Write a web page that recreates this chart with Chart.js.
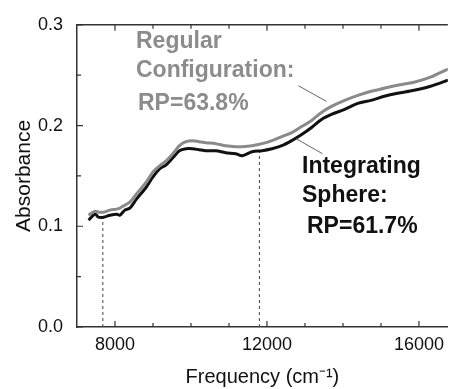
<!DOCTYPE html>
<html>
<head>
<meta charset="utf-8">
<script src="https://cdn.jsdelivr.net/npm/chart.js@4/dist/chart.umd.min.js"></script>
<style>
  html, body { margin: 0; padding: 0; background: #fff; }
  #wrap { width: 451px; height: 389px; }
</style>
</head>
<body>
<div id="wrap"><canvas id="myChart" width="451" height="389"></canvas></div>
<script>
/* data */
const freq = [7304, 7478, 7565, 7696, 7870, 8043, 8130, 8260, 8391, 8565, 8826, 9000, 9174, 9348, 9522, 9696, 9870, 10043, 10217, 10391, 10652, 10913, 11174, 11348, 11609, 11870, 12130, 12391, 12652, 12913, 13174, 13435, 13696, 14043, 14391, 14739, 15087, 15435, 15870, 16304, 16765];
const sphere = [0.106, 0.112, 0.109, 0.109, 0.111, 0.112, 0.111, 0.116, 0.118, 0.127, 0.139, 0.149, 0.157, 0.161, 0.168, 0.175, 0.177, 0.177, 0.176, 0.175, 0.175, 0.173, 0.172, 0.170, 0.174, 0.175, 0.177, 0.180, 0.185, 0.191, 0.198, 0.206, 0.211, 0.216, 0.222, 0.225, 0.229, 0.232, 0.235, 0.239, 0.245];
const regular = [0.111, 0.115, 0.114, 0.114, 0.116, 0.117, 0.118, 0.121, 0.124, 0.132, 0.144, 0.154, 0.160, 0.165, 0.172, 0.180, 0.184, 0.185, 0.184, 0.183, 0.182, 0.180, 0.179, 0.179, 0.180, 0.182, 0.185, 0.189, 0.193, 0.199, 0.205, 0.213, 0.219, 0.225, 0.230, 0.234, 0.237, 0.240, 0.243, 0.248, 0.256];

// dashed markers
const markFreq = [7680, 11800];
const markTop = [0.110, 0.175];

const xTicks = [8000, 12000, 16000];
const xMinor = [9000, 10000, 11000, 13000, 14000, 15000];
const yTicks = [0.0, 0.1, 0.2, 0.3];
const yMinor = [0.05, 0.15, 0.25];

const FONT = "'Liberation Sans', Arial, sans-serif";

function pts(xs, ys) {
    return xs.map((x, i) => ({ x: x, y: ys[i] }));
}

let markSets = markFreq.map((f, i) => ({
    data: [{ x: f, y: 0 }, { x: f, y: markTop[i] }],
    borderColor: '#444',
    borderWidth: 1,
    borderDash: [3, 3],
    pointRadius: 0
}));

// ticks inward, top frame line, labels and leader lines
const extras = {
    id: 'extras',
    afterDraw(chart) {
        const c = chart.ctx;
        const a = chart.chartArea;
        const xs = chart.scales.x, ys = chart.scales.y;
        c.save();
        c.strokeStyle = '#333';
        c.lineWidth = 1.5;
        c.beginPath();
        c.moveTo(a.left, a.top);
        c.lineTo(a.right, a.top);
        c.stroke();

        c.lineWidth = 1.2;
        c.beginPath();
        xTicks.concat(xMinor).forEach(v => {
            const px = xs.getPixelForValue(v);
            const len = xTicks.includes(v) ? 6 : 4;
            c.moveTo(px, a.bottom); c.lineTo(px, a.bottom - len);
            c.moveTo(px, a.top); c.lineTo(px, a.top + len);
        });
        yTicks.concat(yMinor).forEach(v => {
            const py = ys.getPixelForValue(v);
            const len = yTicks.includes(v) ? 6 : 4;
            c.moveTo(a.left, py); c.lineTo(a.left + len, py);
        });
        c.stroke();

        // leader lines
        c.strokeStyle = '#666';
        c.lineWidth = 1;
        c.beginPath();
        c.moveTo(xs.getPixelForValue(12826), ys.getPixelForValue(0.2395));
        c.lineTo(xs.getPixelForValue(13565), ys.getPixelForValue(0.224));
        c.moveTo(xs.getPixelForValue(12765), ys.getPixelForValue(0.187));
        c.lineTo(xs.getPixelForValue(13461), ys.getPixelForValue(0.172));
        c.stroke();

        c.font = 'bold 23px ' + FONT;
        c.textBaseline = 'middle';
        c.fillStyle = '#8c8c8c';
        c.fillText('Regular', 136, 42);
        c.fillText('Configuration:', 136, 71);
        c.fillText('RP=63.8%', 138, 104);
        c.fillStyle = '#111';
        c.fillText('Integrating', 302, 167);
        c.fillText('Sphere:', 302, 196);
        c.fillText('RP=61.7%', 307, 227);
        c.restore();
    }
};

var ctx = document.getElementById('myChart').getContext('2d');
var chart = new Chart(ctx, {
    type: 'line',
    data: {
        datasets: [
            {
                label: 'Regular Configuration',
                data: pts(freq, regular),
                borderColor: '#8a8a8a',
                borderWidth: 3,
                pointRadius: 0,
                tension: 0.3
            },
            {
                label: 'Integrating Sphere',
                data: pts(freq, sphere),
                borderColor: '#111',
                borderWidth: 3,
                pointRadius: 0,
                tension: 0.3
            }
        ].concat(markSets)
    },
    options: {
        responsive: false,
        animation: false,
        layout: { padding: { top: 21, right: 0, bottom: 0, left: 0 } },
        plugins: { legend: { display: false }, tooltip: { enabled: false } },
        scales: {
            x: {
                type: 'linear',
                min: 7000,
                max: 16760,
                afterBuildTicks: s => { s.ticks = xTicks.map(v => ({ value: v })); },
                afterFit: s => { s.height = 62; },
                grid: { display: false, drawTicks: false },
                border: { display: true, color: '#333', width: 1.5 },
                ticks: {
                    color: '#111',
                    padding: 7,
                    maxRotation: 0,
                    font: { family: FONT, size: 18 },
                    callback: v => String(v)
                },
                title: {
                    display: true,
                    text: 'Frequency (cm⁻¹)',
                    color: '#111',
                    font: { family: FONT, size: 20 },
                    padding: { top: 0, bottom: 0 }
                }
            },
            y: {
                min: 0,
                max: 0.3,
                afterBuildTicks: s => { s.ticks = yTicks.map(v => ({ value: v })); },
                afterFit: s => { s.width = 77; },
                grid: { display: false, drawTicks: false },
                border: { display: true, color: '#333', width: 1.5 },
                ticks: {
                    color: '#111',
                    padding: 14,
                    font: { family: FONT, size: 18 },
                    callback: v => v.toFixed(1)
                },
                title: {
                    display: true,
                    text: 'Absorbance',
                    color: '#111',
                    font: { family: FONT, size: 21 },
                    padding: { top: 12, bottom: 0 }
                }
            }
        }
    },
    plugins: [extras]
});
</script>
</body>
</html>
